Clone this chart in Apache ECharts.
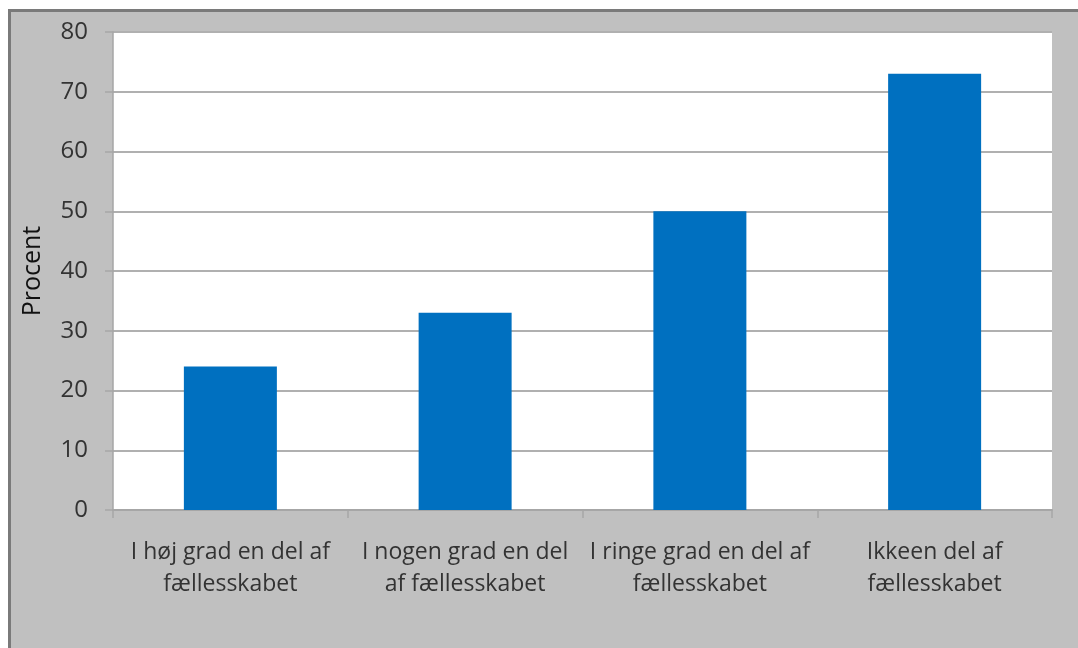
<!DOCTYPE html>
<html>
<head>
<meta charset="utf-8">
<script src="https://cdn.jsdelivr.net/npm/echarts@6/dist/echarts.min.js"></script>
<style>html,body{margin:0;padding:0;background:#fff}#c{width:1078px;height:648px}</style>
</head>
<body>
<div id="c"></div>
<script>
const categories = ['I høj grad en del af\nfællesskabet', 'I nogen grad en del\naf fællesskabet', 'I ringe grad en del af\nfællesskabet', 'Ikkeen del af\nfællesskabet'];
const values = [24, 33, 50, 73];
const yTicks = [0, 10, 20, 30, 40, 50, 60, 70, 80];
const yName = 'Procent';

const chart = echarts.init(document.getElementById('c'));
chart.setOption({
  backgroundColor: '#ffffff',
  animation: false,
  graphic: [{
    type: 'rect', z: -10, silent: true,
    shape: { x: 9.5, y: 10.5, width: 1200, height: 800 },
    style: { fill: '#c0c0c0', stroke: '#7a7a7a', lineWidth: 3 }
  }],
  grid: { left: 113, right: 26, top: 32, bottom: 138, show: true, backgroundColor: '#ffffff', borderWidth: 0 },
  xAxis: {
    type: 'category', data: categories,
    axisLine: { lineStyle: { color: '#a6a6a6', width: 2 } },
    axisTick: { show: true, length: 8, lineStyle: { color: '#a6a6a6', width: 1.5 } },
    axisLabel: { color: '#333333', fontSize: 23, fontFamily: 'Open Sans', margin: 26, lineHeight: 32, interval: 0 }
  },
  yAxis: {
    type: 'value', min: yTicks[0], max: yTicks[yTicks.length - 1], interval: 10,
    name: yName, nameLocation: 'middle', nameGap: 68, nameRotate: 90,
    nameTextStyle: { color: '#111', fontSize: 25, fontFamily: 'Open Sans' },
    axisLine: { show: true, lineStyle: { color: '#a6a6a6', width: 1.5 } },
    axisTick: { show: true, length: 8, lineStyle: { color: '#a6a6a6', width: 1.5 } },
    splitLine: { lineStyle: { color: '#b0b0b0', width: 2 } },
    axisLabel: { color: '#333333', fontSize: 24, fontFamily: 'Open Sans', margin: 25 }
  },
  series: [{
    type: 'bar', data: values, barWidth: 93,
    itemStyle: { color: '#0070c0' }
  }]
});
</script>
</body>
</html>
